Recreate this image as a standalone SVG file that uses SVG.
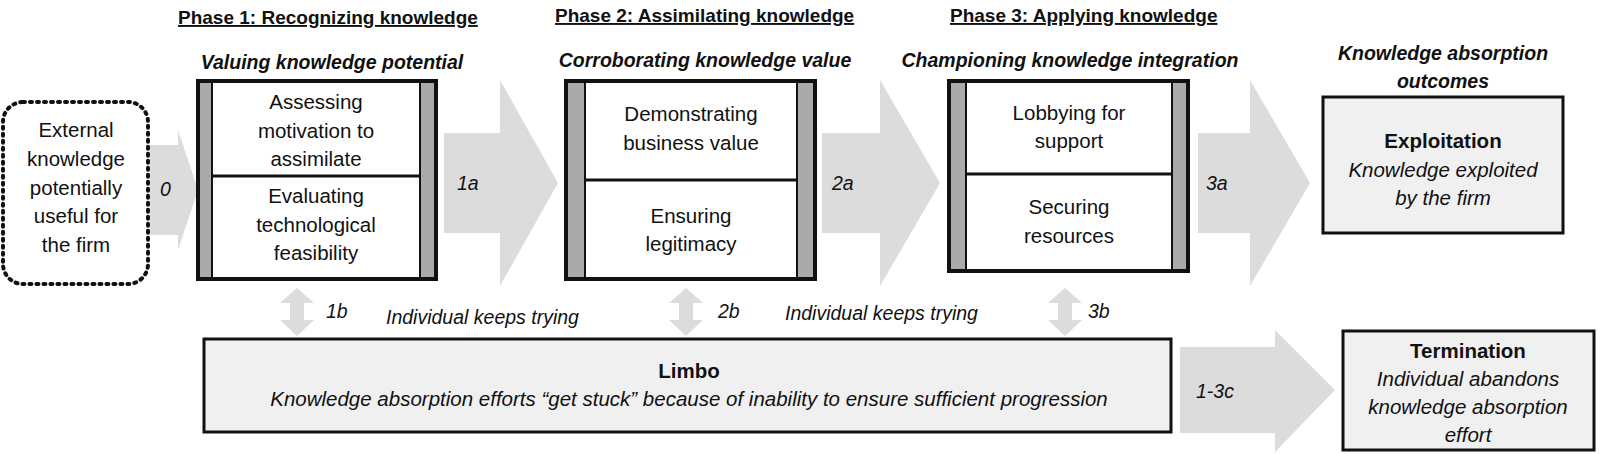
<svg xmlns="http://www.w3.org/2000/svg" width="1600" height="454" viewBox="0 0 1600 454">
<style>
text{font-family:"Liberation Sans",Arial,sans-serif;fill:#111}
.t{font-size:20.5px;text-anchor:middle}
.i{font-style:italic}
.b{font-weight:bold}
.h{font-size:19px;font-weight:bold;text-decoration:underline}
.s{font-size:19.5px;font-weight:bold;font-style:italic;text-anchor:middle}
.l{font-size:19.5px;font-style:italic}
.box{fill:#fff;stroke:#111;stroke-width:4}
.bar{fill:#aaa;stroke:#111;stroke-width:2}
.arr{fill:#dcdcdc}
.out{fill:#f0f0f0;stroke:#111;stroke-width:3}
</style>
<rect width="1600" height="454" fill="#fff"/>
<g id="headers">
<text class="h" x="178" y="24">Phase 1: Recognizing knowledge</text>
<text class="h" x="555" y="22">Phase 2: Assimilating knowledge</text>
<text class="h" x="950" y="22">Phase 3: Applying knowledge</text>
<text class="s" x="332" y="69">Valuing knowledge potential</text>
<text class="s" x="705" y="67">Corroborating knowledge value</text>
<text class="s" x="1070" y="67">Championing  knowledge integration</text>
<text class="s" x="1443" y="60">Knowledge absorption</text>
<text class="s" x="1443" y="88">outcomes</text>
</g>
<g id="connectors">
<polygon class="arr" points="150,145 178,145 178,130 198,190 178,250 178,235 150,235"/>
<text class="l" x="160" y="196">0</text>
<polygon class="arr" points="444,133 500,133 500,80 558,183 500,286 500,233 444,233"/>
<text class="l" x="457" y="190">1a</text>
<polygon class="arr" points="822,133 880,133 880,80 940,183 880,286 880,233 822,233"/>
<text class="l" x="832" y="190">2a</text>
<polygon class="arr" points="1198,133 1250,133 1250,80 1310,183 1250,286 1250,233 1198,233"/>
<text class="l" x="1206" y="190">3a</text>
<polygon class="arr" points="1180,347 1275,347 1275,330 1335,390 1275,452 1275,433 1180,433"/>
<text class="l" x="1196" y="398">1-3c</text>
<polygon class="arr" points="297,288 314,303 304,303 304,320 314,320 297,336 280,320 290,320 290,303 280,303"/>
<polygon class="arr" points="686,288 703,303 693,303 693,320 703,320 686,336 669,320 679,320 679,303 669,303"/>
<polygon class="arr" points="1065,288 1082,303 1072,303 1072,320 1082,320 1065,336 1048,320 1058,320 1058,303 1048,303"/>
<text class="l" x="326" y="318">1b</text>
<text class="l" x="718" y="318">2b</text>
<text class="l" x="1088" y="318">3b</text>
<text class="l" x="386" y="324">Individual keeps trying</text>
<text class="l" x="785" y="320">Individual keeps trying</text>
</g>
<g id="external">
<rect x="3" y="102" width="145" height="182" rx="20" fill="#fff" stroke="#111" stroke-width="4" stroke-dasharray="2,5" stroke-linecap="round"/>
<text class="t" x="76" y="137">External</text>
<text class="t" x="76" y="166">knowledge</text>
<text class="t" x="76" y="195">potentially</text>
<text class="t" x="76" y="223">useful for</text>
<text class="t" x="76" y="252">the firm</text>
</g>
<g id="phase1">
<rect class="box" x="198" y="81" width="238" height="198"/>
<rect class="bar" x="199" y="82" width="13" height="196"/>
<rect class="bar" x="420" y="82" width="15" height="196"/>
<line x1="212" y1="176" x2="420" y2="176" stroke="#111" stroke-width="3"/>
<text class="t" x="316" y="109">Assessing</text>
<text class="t" x="316" y="138">motivation to</text>
<text class="t" x="316" y="166">assimilate</text>
<text class="t" x="316" y="203">Evaluating</text>
<text class="t" x="316" y="232">technological</text>
<text class="t" x="316" y="260">feasibility</text>
</g>
<g id="phase2">
<rect class="box" x="566" y="81" width="249" height="198"/>
<rect class="bar" x="567" y="82" width="18" height="196"/>
<rect class="bar" x="797" y="82" width="17" height="196"/>
<line x1="585" y1="180" x2="797" y2="180" stroke="#111" stroke-width="3"/>
<text class="t" x="691" y="121">Demonstrating</text>
<text class="t" x="691" y="150">business value</text>
<text class="t" x="691" y="223">Ensuring</text>
<text class="t" x="691" y="251">legitimacy</text>
</g>
<g id="phase3">
<rect class="box" x="949" y="81" width="239" height="190"/>
<rect class="bar" x="950" y="82" width="16" height="188"/>
<rect class="bar" x="1172" y="82" width="15" height="188"/>
<line x1="966" y1="174" x2="1172" y2="174" stroke="#111" stroke-width="3"/>
<text class="t" x="1069" y="120">Lobbying for</text>
<text class="t" x="1069" y="148">support</text>
<text class="t" x="1069" y="214">Securing</text>
<text class="t" x="1069" y="243">resources</text>
</g>
<g id="exploitation">
<rect class="out" x="1323" y="97" width="240" height="136"/>
<text class="t b" x="1443" y="148">Exploitation</text>
<text class="t i" x="1443" y="177">Knowledge exploited</text>
<text class="t i" x="1443" y="205">by the firm</text>
</g>
<g id="limbo">
<rect class="out" x="204" y="339" width="967" height="93"/>
<text class="t b" x="689" y="378">Limbo</text>
<text class="t i" x="689" y="406">Knowledge absorption efforts “get stuck” because of inability to ensure sufficient progression</text>
</g>
<g id="termination">
<rect class="out" x="1343" y="331" width="251" height="119"/>
<text class="t b" x="1468" y="358">Termination</text>
<text class="t i" x="1468" y="386">Individual abandons</text>
<text class="t i" x="1468" y="414">knowledge absorption</text>
<text class="t i" x="1468" y="442">effort</text>
</g>
</svg>
